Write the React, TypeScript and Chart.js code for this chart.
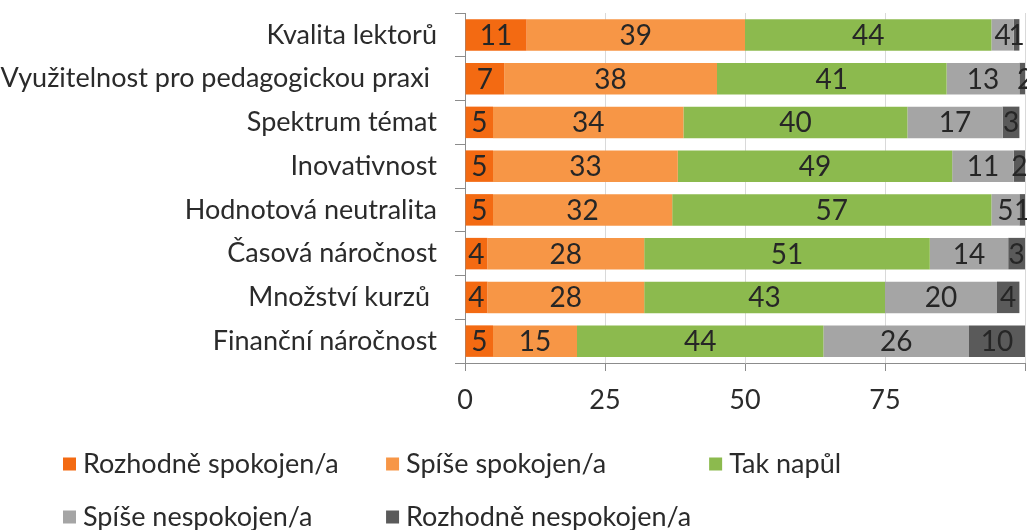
import { useEffect, useRef } from "react";
import { Chart, registerables } from "chart.js";

Chart.register(...registerables);

const categories = [
  "Kvalita lektorů",
  "Využitelnost pro pedagogickou praxi ",
  "Spektrum témat",
  "Inovativnost",
  "Hodnotová neutralita",
  "Časová náročnost",
  "Množství kurzů ",
  "Finanční náročnost",
];

const seriesNames = [
  "Rozhodně spokojen/a",
  "Spíše spokojen/a",
  "Tak napůl",
  "Spíše nespokojen/a",
  "Rozhodně nespokojen/a",
];

const rozhodneSpokojen = [11, 7, 5, 5, 5, 4, 4, 5];
const spiseSpokojen = [39, 38, 34, 33, 32, 28, 28, 15];
const takNapul = [44, 41, 40, 49, 57, 51, 43, 44];
const spiseNespokojen = [4, 13, 17, 11, 5, 14, 20, 26];
const rozhodneNespokojen = [1, 2, 3, 2, 1, 3, 4, 10];

const seriesValues = [rozhodneSpokojen, spiseSpokojen, takNapul, spiseNespokojen, rozhodneNespokojen];
const seriesColors = ["#F36A12", "#F79646", "#8CBA4E", "#A5A5A5", "#5A5A5A"];

const xMin = 0;
const xMax = 100;
const xStep = 25;

const FONT = "Lato, 'Open Sans', sans-serif";
const FONT_SIZE = 27;
const VALUE_FONT_SIZE = 28;
const TEXT_COLOR = "#2b2b2b";

const valueLabelsPlugin = {
  id: "valueLabels",
  afterDatasetsDraw(chart: any) {
    const ctx = chart.ctx;
    ctx.save();
    ctx.font = `${VALUE_FONT_SIZE}px ${FONT}`;
    ctx.fillStyle = "#262626";
    ctx.textAlign = "center";
    ctx.textBaseline = "middle";
    chart.data.datasets.forEach((ds: any, di: number) => {
      const meta = chart.getDatasetMeta(di);
      meta.data.forEach((el: any, i: number) => {
        const v = ds.data[i];
        if (!v) return;
        const p = el.getProps(["x", "y", "base"], true);
        ctx.fillText(String(v), (p.x + p.base) / 2, p.y + 1);
      });
    });
    ctx.restore();
  },
};

const gridLegendPlugin = {
  id: "gridLegend",
  afterDraw(chart: any) {
    const ctx = chart.ctx;
    const xScale = chart.scales.x;
    const box = 13;
    const gap = 7;
    const cols = 3;
    const left = 63;
    const row1 = xScale.bottom + 41;
    const rowH = 53;
    ctx.save();
    ctx.font = `${FONT_SIZE}px ${FONT}`;
    ctx.textBaseline = "middle";
    ctx.textAlign = "left";
    const items = chart.data.datasets.map((d: any) => ({ text: d.label, color: d.backgroundColor }));
    const maxW = Math.max(...items.map((it: any) => ctx.measureText(it.text).width));
    const colW = box + gap + maxW + 18;
    items.forEach((it: any, i: number) => {
      const r = Math.floor(i / cols);
      const c = i % cols;
      const x = left + c * colW;
      const y = row1 + r * rowH;
      ctx.fillStyle = it.color;
      ctx.fillRect(x, y - box / 2, box, box);
      ctx.fillStyle = TEXT_COLOR;
      ctx.fillText(it.text, x + box + gap, y);
    });
    ctx.restore();
  },
};

export default function App() {
  const canvasRef = useRef<HTMLCanvasElement | null>(null);

  useEffect(() => {
    if (!canvasRef.current) return;
    const chart = new Chart(canvasRef.current, {
      type: "bar",
      data: {
        labels: categories,
        datasets: seriesNames.map((name, i) => ({
          label: name,
          data: seriesValues[i],
          backgroundColor: seriesColors[i],
          borderWidth: 0,
          barPercentage: 0.72,
          categoryPercentage: 1,
        })),
      },
      options: {
        indexAxis: "y",
        responsive: false,
        animation: false,
        events: [],
        layout: { padding: { left: 0, right: 2, top: 13, bottom: 107 } },
        plugins: {
          legend: { display: false },
          tooltip: { enabled: false },
          title: { display: false },
        },
        scales: {
          x: {
            stacked: true,
            min: xMin,
            max: xMax,
            ticks: {
              stepSize: xStep,
              padding: 13,
              color: TEXT_COLOR,
              font: { family: FONT, size: FONT_SIZE },
              callback: (v: any) => (Number(v) === xMax ? "" : String(v)),
              maxRotation: 0,
            },
            grid: {
              color: "#D9D9D9",
              tickColor: "#8C8C8C",
              tickLength: 8,
              lineWidth: 1,
            },
            border: { display: true, color: "#8C8C8C" },
            afterFit: (s: any) => {
              s.height = 60;
              s.paddingLeft = 0;
              s.paddingRight = 0;
            },
          },
          y: {
            stacked: true,
            ticks: {
              padding: 18,
              color: TEXT_COLOR,
              font: { family: FONT, size: FONT_SIZE },
              autoSkip: false,
            },
            grid: {
              drawOnChartArea: false,
              drawTicks: true,
              tickLength: 10,
              tickColor: "#8C8C8C",
              offset: true,
            },
            border: { display: true, color: "#8C8C8C" },
            afterFit: (s: any) => {
              s.width = 465;
              s.paddingTop = 0;
              s.paddingBottom = 0;
            },
          },
        },
      },
      plugins: [valueLabelsPlugin, gridLegendPlugin],
    } as any);
    return () => chart.destroy();
  }, []);

  return (
    <div style={{ position: "fixed", left: 0, top: 0, width: 1027, height: 530, background: "#fff" }}>
      <canvas ref={canvasRef} width={1027} height={530} />
    </div>
  );
}
